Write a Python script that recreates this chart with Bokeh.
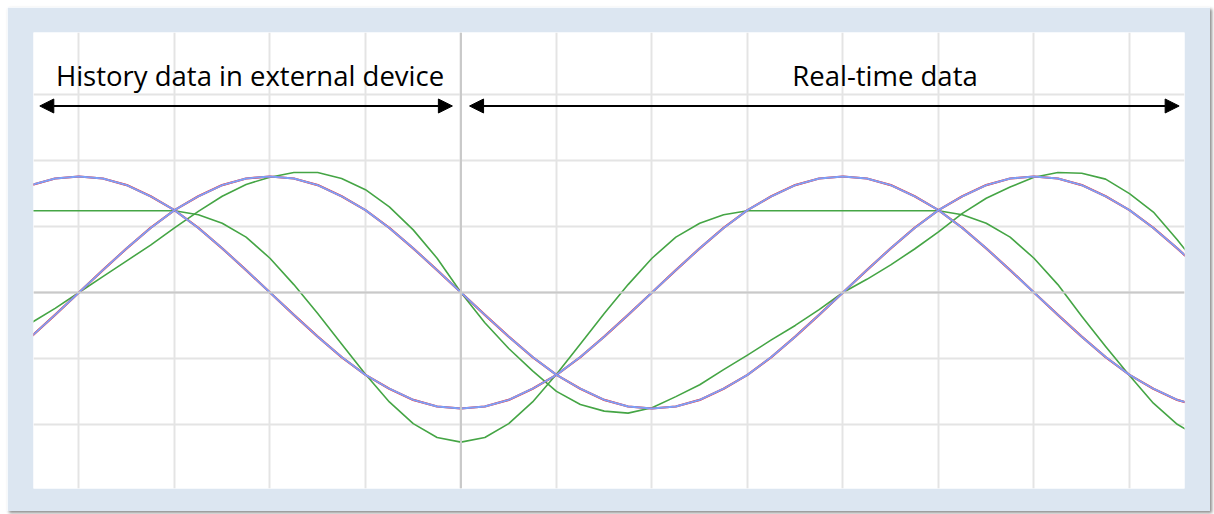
from bokeh.plotting import figure
from bokeh.models import Range1d, FixedTicker, Span, Arrow, NormalHead, Label
from bokeh.embed import file_html
from bokeh.resources import INLINE

# ---- data ----
t = [-4.5, -4.25, -4.0, -3.75, -3.5, -3.25, -3.0, -2.75, -2.5, -2.25,
     -2.0, -1.75, -1.5, -1.25, -1.0, -0.75, -0.5, -0.25, 0.0, 0.25,
     0.5, 0.75, 1.0, 1.25, 1.5, 1.75, 2.0, 2.25, 2.5, 2.75,
     3.0, 3.25, 3.5, 3.75, 4.0, 4.25, 4.5, 4.75, 5.0, 5.25,
     5.5, 5.75, 6.0, 6.25, 6.5, 6.75, 7.0, 7.25, 7.5, 7.75]

wave_1 = [1.63, 1.73, 1.76, 1.73, 1.63, 1.46, 1.25, 0.98, 0.67, 0.34,
          0.0, -0.34, -0.67, -0.98, -1.25, -1.46, -1.63, -1.73, -1.76, -1.73,
          -1.63, -1.46, -1.25, -0.98, -0.67, -0.34, 0.0, 0.34, 0.67, 0.98,
          1.25, 1.46, 1.63, 1.73, 1.76, 1.73, 1.63, 1.46, 1.25, 0.98,
          0.67, 0.34, 0.0, -0.34, -0.67, -0.98, -1.25, -1.46, -1.63, -1.73]

wave_2 = [-0.67, -0.34, 0.0, 0.34, 0.67, 0.98, 1.25, 1.46, 1.63, 1.73,
          1.76, 1.73, 1.63, 1.46, 1.25, 0.98, 0.67, 0.34, 0.0, -0.34,
          -0.67, -0.98, -1.25, -1.46, -1.63, -1.73, -1.76, -1.73, -1.63, -1.46,
          -1.25, -0.98, -0.67, -0.34, 0.0, 0.34, 0.67, 0.98, 1.25, 1.46,
          1.63, 1.73, 1.76, 1.73, 1.63, 1.46, 1.25, 0.98, 0.67, 0.34]

green_clipped = [1.24, 1.24, 1.24, 1.24, 1.24, 1.24, 1.24, 1.18, 1.05, 0.84,
                 0.52, 0.12, -0.32, -0.78, -1.24, -1.66, -1.99, -2.20, -2.27, -2.20,
                 -1.99, -1.66, -1.24, -0.78, -0.32, 0.12, 0.52, 0.84, 1.05, 1.18,
                 1.24, 1.24, 1.24, 1.24, 1.24, 1.24, 1.24, 1.24, 1.24, 1.18,
                 1.05, 0.84, 0.52, 0.12, -0.36, -0.82, -1.26, -1.68, -2.00, -2.21]

green_skewed = [-0.46, -0.24, 0.0, 0.24, 0.48, 0.72, 0.98, 1.23, 1.46, 1.64,
                1.75, 1.82, 1.82, 1.73, 1.56, 1.30, 0.95, 0.52, 0.0, -0.46,
                -0.85, -1.19, -1.50, -1.70, -1.80, -1.83, -1.75, -1.58, -1.40, -1.17,
                -0.95, -0.72, -0.50, -0.26, 0.0, 0.20, 0.42, 0.66, 0.92, 1.20,
                1.43, 1.60, 1.75, 1.82, 1.81, 1.72, 1.50, 1.22, 0.80, 0.35]

x_grid = [-4, -3, -2, -1, 0, 1, 2, 3, 4, 5, 6, 7]
y_grid = [-2, -1, 0, 1, 2, 3]

history_label = "History data in external device"
realtime_label = "Real-time data"

# ---- figure ----
p = figure(width=1203, height=504,
           x_range=Range1d(-4.476, 7.576), y_range=Range1d(-2.974, 3.945),
           output_backend="svg", toolbar_location=None,
           x_axis_location=None, y_axis_location=None,
           min_border_left=26, min_border_right=26,
           min_border_top=25, min_border_bottom=23)

p.border_fill_color = "#dce6f1"
p.background_fill_color = "white"
p.outline_line_color = None
p.styles = {"margin-left": "7px", "margin-top": "7px",
            "box-shadow": "2px 2px 3px rgba(0,0,0,0.45)"}

p.xgrid.ticker = FixedTicker(ticks=x_grid)
p.ygrid.ticker = FixedTicker(ticks=y_grid)
for g in (p.xgrid, p.ygrid):
    g.grid_line_color = "#e4e4e4"
    g.grid_line_width = 2

p.add_layout(Span(location=0, dimension="height", line_color="#c9c9c9", line_width=2))
p.add_layout(Span(location=0, dimension="width", line_color="#c9c9c9", line_width=2))

green = "#45a545"
p.line(t, green_clipped, line_color=green, line_width=1.6, line_join="round")
p.line(t, green_skewed, line_color=green, line_width=1.6, line_join="round")
for w in (wave_1, wave_2):
    p.line(t, w, line_color="#ff1a1a", line_width=2.2, line_join="round")
    p.line(t, w, line_color="#7da0f7", line_width=1.9, line_join="round")

head = dict(size=14, fill_color="black", line_color="black")
p.add_layout(Arrow(x_start=-0.09, y_start=2.83, x_end=-4.41, y_end=2.83,
                   start=NormalHead(**head), end=NormalHead(**head),
                   line_color="black", line_width=2))
p.add_layout(Arrow(x_start=0.09, y_start=2.83, x_end=7.52, y_end=2.83,
                   start=NormalHead(**head), end=NormalHead(**head),
                   line_color="black", line_width=2))

lab = dict(text_align="center", text_baseline="alphabetic", text_font="Open Sans",
           text_font_size="27.5px", text_color="black")
p.add_layout(Label(x=-2.209, y=3.29, text=history_label, **lab))
p.add_layout(Label(x=4.44, y=3.29, text=realtime_label, **lab))

open("out.html", "w").write(file_html(p, INLINE))
